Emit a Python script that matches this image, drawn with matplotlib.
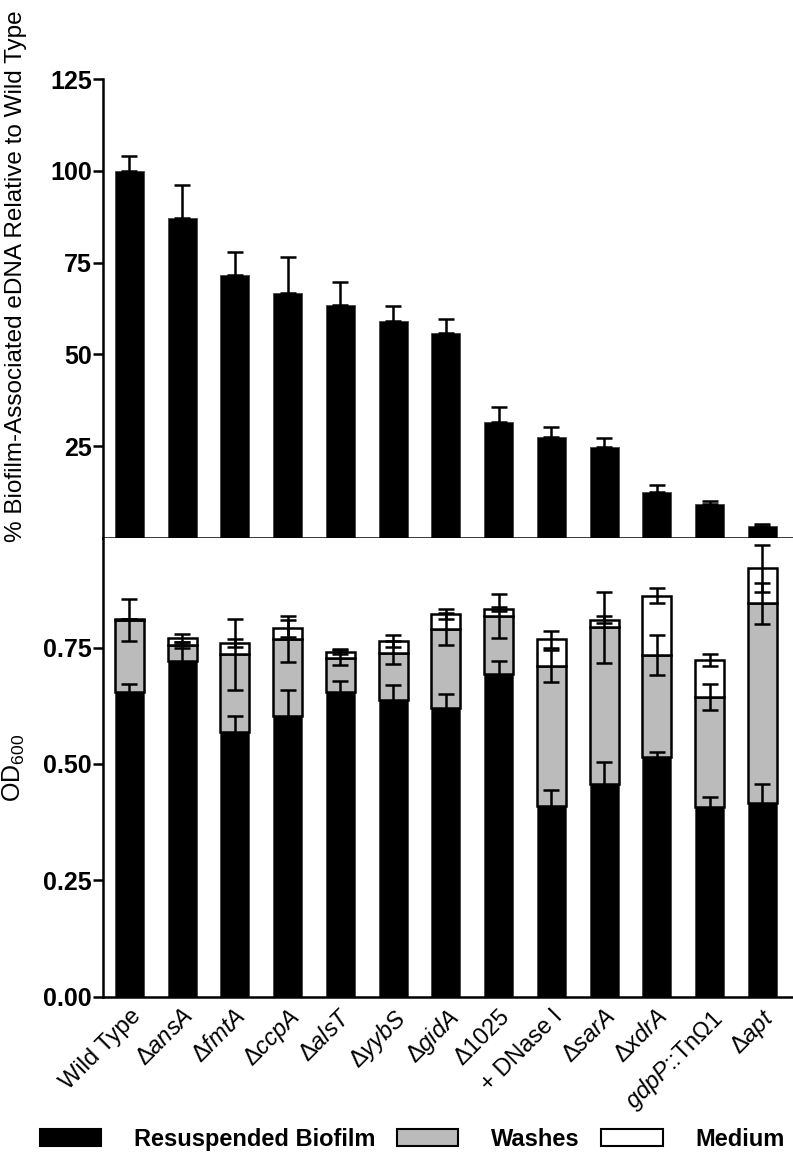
import numpy as np
import matplotlib
matplotlib.use('Agg')
import matplotlib.pyplot as plt
from matplotlib.patches import Patch

plt.rcParams['font.family'] = ['Liberation Sans', 'DejaVu Sans']
plt.rcParams['mathtext.fontset'] = 'custom'
plt.rcParams['mathtext.rm'] = 'Liberation Sans'
plt.rcParams['mathtext.it'] = 'Liberation Sans:italic'
plt.rcParams['mathtext.bf'] = 'Liberation Sans:bold'

# etiquetas de las cepas
cepas = ['Wild Type', r'Δ$\mathit{ansA}$', r'Δ$\mathit{fmtA}$', r'Δ$\mathit{ccpA}$',
         r'Δ$\mathit{alsT}$', r'Δ$\mathit{yybS}$', r'Δ$\mathit{gidA}$', 'Δ1025',
         '+ DNase I', r'Δ$\mathit{sarA}$', r'Δ$\mathit{xdrA}$',
         r'$\mathit{gdpP}$::TnΩ1', r'Δ$\mathit{apt}$']

# panel superior: % eDNA relativo al wild type
edna = [100, 87.2, 71.7, 66.8, 63.4, 59.0, 55.8, 31.5, 27.5, 24.8, 12.4, 9.3, 3.3]
edna_err = [4.0, 9.0, 6.3, 9.6, 6.3, 4.1, 3.9, 4.1, 2.6, 2.3, 2.1, 0.7, 0.6]

# panel inferior: OD600 por fraccion
biofilm = [0.655, 0.720, 0.569, 0.604, 0.655, 0.637, 0.621, 0.694, 0.409, 0.458, 0.516, 0.408, 0.417]
biofilm_err = [0.017, 0.035, 0.034, 0.055, 0.023, 0.033, 0.029, 0.028, 0.036, 0.047, 0.010, 0.021, 0.040]
washes = [0.154, 0.035, 0.166, 0.164, 0.073, 0.102, 0.168, 0.124, 0.301, 0.335, 0.218, 0.236, 0.428]
washes_err = [0.046, 0.007, 0.077, 0.049, 0.016, 0.025, 0.034, 0.047, 0.035, 0.076, 0.043, 0.028, 0.044]
medium = [0.003, 0.016, 0.025, 0.023, 0.013, 0.025, 0.033, 0.015, 0.058, 0.017, 0.127, 0.079, 0.075]
medium_err = [0.0, 0.009, 0.008, 0.018, 0.005, 0.013, 0.011, 0.004, 0.018, 0.008, 0.016, 0.012, 0.050]

x = np.arange(len(cepas))
ancho = 0.55

fig = plt.figure(figsize=(7.93, 11.64), dpi=100)
ax1 = fig.add_axes([0.130, 0.5378, 0.870, 0.3943])
ax2 = fig.add_axes([0.130, 0.1435, 0.870, 0.3943])

# panel superior
ax1.bar(x, edna, width=ancho, color='black', edgecolor='#444444', linewidth=0.6, zorder=2)
ax1.errorbar(x, edna, yerr=[np.zeros(len(edna)), edna_err], fmt='none', ecolor='black',
             elinewidth=1.8, capsize=5.8, capthick=1.8, zorder=3)
ax1.set_xlim(-0.5, 12.58)
ax1.set_ylim(0, 125)
ax1.set_yticks([25, 50, 75, 100, 125])
ax1.set_xticks([])
ax1.set_ylabel('% Biofilm-Associated eDNA Relative to Wild Type', fontsize=17.5)
ax1.yaxis.set_label_coords(-0.11, 0.57)

# panel inferior apilado
tope1 = np.array(biofilm)
tope2 = tope1 + np.array(washes)
tope3 = tope2 + np.array(medium)
ax2.bar(x, biofilm, width=ancho, color='black', edgecolor='#444444', linewidth=0.6, zorder=2)
ax2.bar(x, washes, bottom=tope1, width=ancho, color='#bbbbbb', edgecolor='black', linewidth=1.8, zorder=2)
ax2.bar(x, medium, bottom=tope2, width=ancho, color='white', edgecolor='black', linewidth=1.8, zorder=2)
for tope, err in [(tope1, biofilm_err), (tope2, washes_err), (tope3, medium_err)]:
    ax2.errorbar(x, tope, yerr=err, fmt='none', ecolor='black', elinewidth=1.8,
                 capsize=5.8, capthick=1.8, zorder=3)
ax2.set_xlim(-0.5, 12.58)
ax2.set_ylim(0, 0.985)
ax2.set_yticks([0, 0.25, 0.5, 0.75])
ax2.set_yticklabels(['0.00', '0.25', '0.50', '0.75'])
ax2.set_xticks(x)
ax2.set_xticklabels(cepas, rotation=45, ha='right', rotation_mode='anchor', fontsize=17)
ax2.set_ylabel(r'OD$_{\mathrm{600}}$', fontsize=18)
ax2.yaxis.set_label_coords(-0.11, 0.5)

for ax in (ax1, ax2):
    for lado in ['top', 'right']:
        ax.spines[lado].set_visible(False)
    for lado in ['left', 'bottom']:
        ax.spines[lado].set_linewidth(1.8)
    ax.tick_params(axis='y', length=7, width=1.8, labelsize=18, pad=1)
    for t in ax.get_yticklabels():
        t.set_fontweight('bold')
ax2.tick_params(axis='x', length=0, pad=6)

handles = [Patch(facecolor='black', edgecolor='black', linewidth=1.5),
           Patch(facecolor='#bbbbbb', edgecolor='black', linewidth=1.5),
           Patch(facecolor='white', edgecolor='black', linewidth=1.5)]
fig.legend(handles, ['Resuspended Biofilm', 'Washes', 'Medium'], loc='lower center',
           bbox_to_anchor=(0.52, -0.007), ncol=3, frameon=False, handlelength=2.6,
           handleheight=0.7, columnspacing=0.9, handletextpad=1.4,
           prop={'weight': 'bold', 'size': 17})

fig.savefig('out.png', dpi=100)
